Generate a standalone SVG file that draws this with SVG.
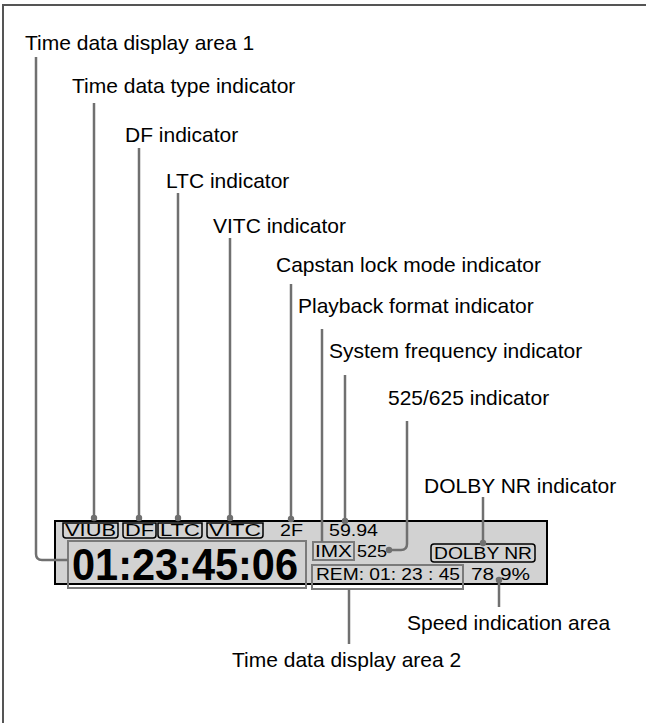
<svg xmlns="http://www.w3.org/2000/svg" width="646" height="723" viewBox="0 0 646 723">
<style>
.lbl{font-family:"Liberation Sans",Arial,sans-serif;font-size:21px;fill:#000}
.pt{font-family:"Liberation Sans",Arial,sans-serif;font-size:16px;fill:#000}
.ln{fill:none;stroke:#707070;stroke-width:2.5;stroke-linejoin:round}
.dot{fill:#707070}
.bk{fill:none;stroke:#000;stroke-width:1.5}
.gb{fill:none;stroke:#7a7a7a;stroke-width:2}
</style>
<rect width="646" height="723" fill="#fff"/>
<path d="M3,723 V5 H646" fill="none" stroke="#555" stroke-width="2"/>

<g id="panel">
<rect x="55" y="521" width="492" height="63" fill="#d2d2d2" stroke="#000" stroke-width="2"/>
</g>

<g id="viub">
<path class="bk" d="M63,523 V535 Q63,538 66,538 H115 Q118,538 118,535 V523 Z"/>
<text class="pt" x="65" y="536" textLength="51" lengthAdjust="spacingAndGlyphs">VIUB</text>
</g>
<g id="df">
<path class="bk" d="M123,523 V535 Q123,538 126,538 H153 Q156,538 156,535 V523 Z"/>
<text class="pt" x="125" y="536" textLength="29" lengthAdjust="spacingAndGlyphs">DF</text>
</g>
<g id="ltc">
<path class="bk" d="M158,523 V535 Q158,538 161,538 H199 Q202,538 202,535 V523 Z"/>
<text class="pt" x="160" y="536" textLength="40" lengthAdjust="spacingAndGlyphs">LTC</text>
</g>
<g id="vitc">
<path class="bk" d="M207,523 V535 Q207,538 210,538 H260 Q263,538 263,535 V523 Z"/>
<text class="pt" x="209" y="536" textLength="52" lengthAdjust="spacingAndGlyphs">VITC</text>
</g>
<g id="twoF">
<text class="pt" x="280" y="536" textLength="23" lengthAdjust="spacingAndGlyphs">2F</text>
</g>
<g id="time1">
<rect class="gb" x="68" y="541" width="238" height="47"/>
<text x="72" y="580" font-family="'Liberation Sans',Arial,sans-serif" font-weight="bold" font-size="45" textLength="226" lengthAdjust="spacingAndGlyphs">01:23:45:06</text>
</g>
<g id="freq">
<text class="pt" x="329" y="536" textLength="49" lengthAdjust="spacingAndGlyphs">59.94</text>
</g>
<g id="imx">
<rect class="gb" x="313" y="542" width="41" height="18"/>
<text class="pt" x="315" y="557" textLength="37" lengthAdjust="spacingAndGlyphs">IMX</text>
</g>
<g id="n525">
<text class="pt" x="357" y="557" textLength="30" lengthAdjust="spacingAndGlyphs">525</text>
</g>
<g id="dolby">
<rect class="bk" x="431" y="544" width="104" height="18" rx="3"/>
<text class="pt" x="434" y="558.5" textLength="98" lengthAdjust="spacingAndGlyphs">DOLBY NR</text>
</g>
<g id="rem">
<rect class="gb" x="312" y="565" width="151" height="24"/>
<text class="pt" x="316" y="579.5" textLength="144" lengthAdjust="spacingAndGlyphs" xml:space="preserve">REM: 01: 23 : 45</text>
</g>
<g id="speed">
<text class="pt" x="471" y="579.5" textLength="59" lengthAdjust="spacingAndGlyphs">78.9%</text>
</g>

<g id="labels">
<text class="lbl" x="25" y="50">Time data display area 1</text>
<text class="lbl" x="72" y="93">Time data type indicator</text>
<text class="lbl" x="125" y="142">DF indicator</text>
<text class="lbl" x="166" y="188">LTC indicator</text>
<text class="lbl" x="213" y="233">VITC indicator</text>
<text class="lbl" x="276" y="272">Capstan lock mode indicator</text>
<text class="lbl" x="298" y="313">Playback format indicator</text>
<text class="lbl" x="329" y="358">System frequency indicator</text>
<text class="lbl" x="388" y="405">525/625 indicator</text>
<text class="lbl" x="424" y="493">DOLBY NR indicator</text>
<text class="lbl" x="407" y="630">Speed indication area</text>
<text class="lbl" x="232" y="667">Time data display area 2</text>
</g>

<g id="connectors">
<path class="ln" d="M36,57 V554 Q36,560 42,560 H68"/>
<path class="ln" d="M94,103 V518"/><circle class="dot" cx="94" cy="518" r="3.2"/>
<path class="ln" d="M139,148 V518"/><circle class="dot" cx="139" cy="518" r="3.2"/>
<path class="ln" d="M178,193 V518"/><circle class="dot" cx="178" cy="518" r="3.2"/>
<path class="ln" d="M230,238 V518"/><circle class="dot" cx="230" cy="518" r="3.2"/>
<path class="ln" d="M291,284 V519"/><circle class="dot" cx="291" cy="519" r="3.2"/>
<path class="ln" d="M322,329 V542"/>
<path class="ln" d="M345,375 V521"/><circle class="dot" cx="345" cy="521" r="3.2"/>
<path class="ln" d="M407,421 V544 Q407,550 401,550 H389"/><circle class="dot" cx="389" cy="550" r="3.2"/>
<path class="ln" d="M483,497 V543"/><circle class="dot" cx="483" cy="543" r="3.2"/>
<path class="ln" d="M499,580 V607"/><circle class="dot" cx="499" cy="580" r="3.2"/>
<path class="ln" d="M349,589 V644"/>
</g>
</svg>
